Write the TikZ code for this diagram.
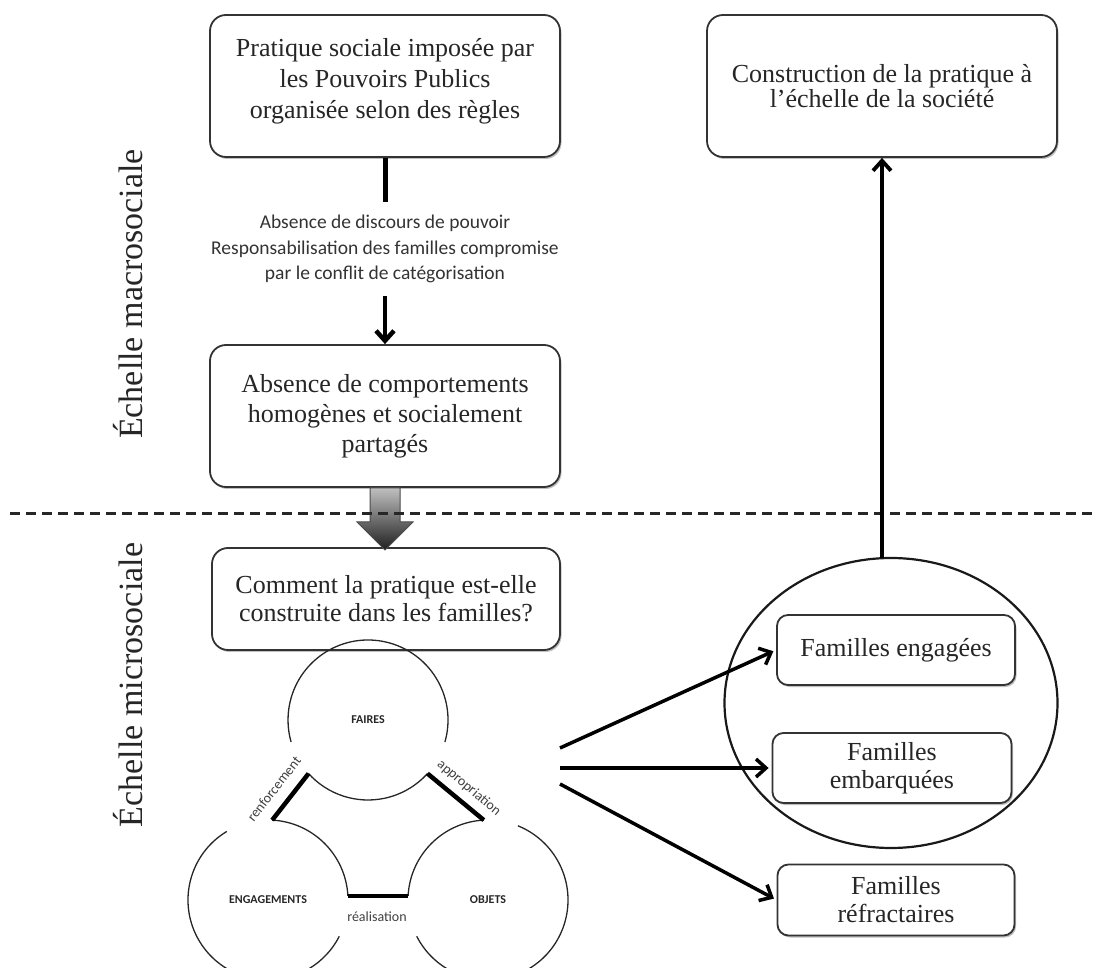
\documentclass[tikz,border=0pt]{standalone}
\usepackage{fontspec}
\setmainfont{Liberation Serif}
\newfontfamily\calib{Carlito}
\usetikzlibrary{arrows.meta,shapes.geometric,shadows,calc}
\begin{document}
\begin{tikzpicture}[x=1pt,y=1pt,
  box/.style={draw=black!80, line width=1.8pt, rounded corners=16pt, fill=white, align=center,
     font=\fontsize{26}{31}\selectfont, text=black!85, inner sep=0pt,
     drop shadow={shadow xshift=1.5pt, shadow yshift=-2pt, opacity=0.25, fill=black}},
  fam/.style={box, rounded corners=11pt, font=\fontsize{26}{28}\selectfont},
  lab/.style={font=\calib\fontsize{19.5}{25.5}\selectfont, text=black!80, align=center, inner xsep=2pt, inner ysep=13pt},
  lbl/.style={font=\calib\fontsize{14}{16}\selectfont, text=black!75, inner sep=0pt},
  capsf/.style={font=\calib\bfseries\fontsize{12}{14}\selectfont, text=black!85},
  ring/.style={circle, minimum size=160pt, inner sep=0pt, outer sep=0pt},
  arcline/.style={draw=black!85, line width=1.3pt},
  bar/.style={draw=black, line width=4.5pt},
  arr/.style={draw=black, line width=3.5pt, -{Straight Barb[length=10pt, width=18pt]}},
  side/.style={rotate=90, font=\fontsize{34}{40}\selectfont, text=black!85},
]
\useasboundingbox (0,0) rectangle (1097,967);

% side labels
\node[side] (macro) at (128,673) {Échelle macrosociale};
\node[side] (micro) at (128,282) {Échelle microsociale};

% top boxes
\node[box, minimum width=350pt, minimum height=142pt] (B1) at (385,881)
  {\rule{0pt}{0pt}\\[-22pt]Pratique sociale imposée par\\les Pouvoirs Publics\\organisée selon des règles};
\node[box, minimum width=350pt, minimum height=142pt, font=\fontsize{26}{25}\selectfont] (B2) at (882,881)
  {Construction de la pratique à\\l’échelle de la société};
\node[box, minimum width=350pt, minimum height=142pt, font=\fontsize{26}{30}\selectfont] (B3) at (385,551)
  {Absence de comportements\\homogènes et socialement\\partagés};
\node[box, minimum width=348pt, minimum height=102pt, font=\fontsize{26}{28}\selectfont] (B4) at (386,368)
  {Comment la pratique est-elle\\construite dans les familles?};

% middle label and arrows
\node[lab] (mid) at (385,718)
  {Absence de discours de pouvoir\\Responsabilisation des familles compromise\\par le conflit de catégorisation};
\draw[line width=5pt] (B1.south) -- (mid.north);
\draw[arr, line width=4.5pt] (mid.south) -- (B3.north);

% block arrow
\shade[top color=black!25, bottom color=black!88, draw=black!70, line width=1pt]
  (370,479) -- (400,479) -- (400,445) -- (413,445) -- (385,417) -- (357,445) -- (370,445) -- cycle;

% dashed separator
\coordinate (d1) at (10,453);
\coordinate (d2) at (1097,453);
\draw[line width=3pt, black!85, dash pattern=on 10pt off 6pt] (d1) -- (d2);

% triangle of circles
\node[ring, capsf] (F) at (368,247) {FAIRES};
\node[ring, capsf] (E) at (268,67) {ENGAGEMENTS};
\node[ring, capsf] (O) at (488,67) {OBJETS};

\draw[arcline] (F.344) arc[start angle=-16, end angle=196, radius=80pt];
\draw[arcline] (F.222) arc[start angle=222, end angle=318, radius=80pt];
\draw[arcline] (E.121) arc[start angle=121, end angle=333, radius=80pt];
\draw[arcline] (E.3) arc[start angle=3, end angle=87, radius=80pt];
\draw[arcline] (O.207) arc[start angle=207, end angle=428, radius=80pt];
\draw[arcline] (O.93) arc[start angle=93, end angle=177, radius=80pt];

\draw[bar] (E.87) -- (F.222);
\draw[bar] (F.318) -- (O.93);
\draw[bar] (E.3) -- (O.177);

\node[lbl, rotate=52] (l1) at (274,178) {renforcement};
\node[lbl, rotate=-40] (l2) at (469,179) {appropriation};
\node[lbl] (l3) at (377,50) {réalisation};

% group ellipse and family boxes
\node[ellipse, draw=black!90, line width=2.2pt, minimum width=333pt, minimum height=290pt, inner sep=0pt, outer sep=0pt] (grp) at (891,264) {};
\node[fam, minimum width=238pt, minimum height=70pt] (FE) at (896,317) {Familles engagées};
\node[fam, minimum width=239pt, minimum height=70pt] (FB) at (892,199) {Familles\\embarquées};
\node[fam, minimum width=237pt, minimum height=71pt] (FR) at (896,67) {Familles\\réfractaires};

\coordinate (s1) at (560,219);
\coordinate (s2) at (560,199);
\coordinate (s3) at (560,183);
\draw[arr, shorten >=3pt] (s1) -- (FE.west);
\draw[arr, shorten >=3pt] (s2) -- (FB.west);
\draw[arr, shorten >=3pt] (s3) -- (FR.west);

\draw[arr, line width=3.8pt] (B2.south |- grp.north) -- (B2.south);
\end{tikzpicture}
\end{document}
